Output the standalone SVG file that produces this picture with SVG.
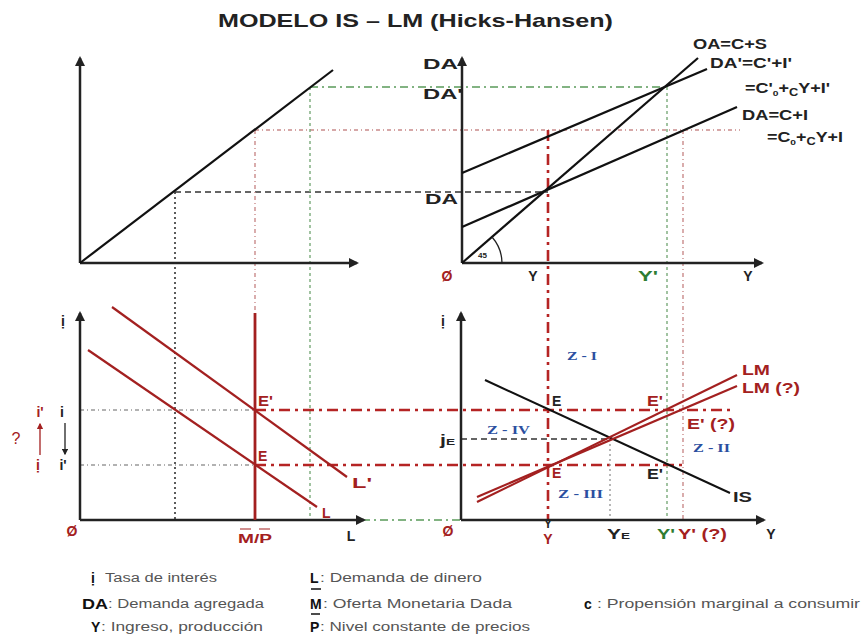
<svg xmlns="http://www.w3.org/2000/svg" width="863" height="638" viewBox="0 0 863 638">
<style>
.ax{stroke:#222;stroke-width:2.5;fill:none;marker-end:url(#ah)}
.bk{stroke:#111;stroke-width:2.2;fill:none}
.rd{stroke:#a32020;stroke-width:2.2;fill:none}
.t{font-family:"Liberation Sans",Arial,sans-serif;font-weight:bold;font-size:14px;fill:#222}
.tr{fill:#a32020}
.tg{fill:#2e7d32}
.tb{font-family:"Liberation Serif","Times New Roman",serif;font-weight:bold;font-size:13px;fill:#2b4fa0}
.lg{font-family:"Liberation Sans",Arial,sans-serif;font-size:12.5px;fill:#555}
.lgb{font-family:"Liberation Sans",Arial,sans-serif;font-weight:bold;font-size:14px;fill:#111}
.bdash{stroke:#333;stroke-width:1.6;stroke-dasharray:6 4;fill:none}
.bdot{stroke:#333;stroke-width:1.6;stroke-dasharray:2 3;fill:none}
.pdot{stroke:#c98a8a;stroke-width:1.4;stroke-dasharray:4 3 1 3;fill:none}
.gdd{stroke:#5a9a5a;stroke-width:1.4;stroke-dasharray:8 4 2 4;fill:none}
.gdot{stroke:#7aaa7a;stroke-width:1.4;stroke-dasharray:3 3;fill:none}
.gydd{stroke:#999;stroke-width:1.4;stroke-dasharray:4 3 1 3;fill:none}
.rdd{stroke:#b52424;stroke-width:2.6;stroke-dasharray:11 5 3 5;fill:none}
.gyd{stroke:#999;stroke-width:1.4;stroke-dasharray:2 3;fill:none}
</style>
<defs>
<marker id="ah" viewBox="0 0 10 10" refX="8" refY="5" markerWidth="4" markerHeight="4" orient="auto"><path d="M0,0 L10,5 L0,10 z" fill="#222"/></marker>
<marker id="ahr" viewBox="0 0 10 10" refX="8" refY="5" markerWidth="5" markerHeight="5" orient="auto"><path d="M0,0 L10,5 L0,10 z" fill="#a32020"/></marker>
<marker id="ahk" viewBox="0 0 10 10" refX="8" refY="5" markerWidth="5" markerHeight="5" orient="auto"><path d="M0,0 L10,5 L0,10 z" fill="#222"/></marker>
</defs>
<rect width="863" height="638" fill="#fff"/>
<text class="t" x="218" y="27" textLength="395" lengthAdjust="spacingAndGlyphs" style="font-size:19px">MODELO IS – LM (Hicks-Hansen)</text>

<g id="connectors">
<path class="bdash" d="M175,192 H548"/>
<path class="bdot" d="M175,192 V520"/>
<path class="pdot" d="M255,130 H740"/>
<path class="pdot" d="M255,130 V313"/>
<path class="gdd" d="M310,87 H667"/>
<path class="gdot" d="M310,87 V520"/>
<path class="gdot" d="M667,87 V520"/>
<path class="pdot" d="M683,130 V520"/>
<path class="gdd" d="M362,520 H461"/>
<path class="gydd" d="M80,410 H255"/>
<path class="gydd" d="M80,465 H255"/>
<path class="rdd" d="M255,410 H730"/>
<path class="rdd" d="M255,465 H683"/>
<path class="rdd" d="M548,130 V520"/>
<path class="bdash" d="M461,439 H610"/>
<path class="gyd" d="M610,439 V520"/>
</g>

<g id="panel-top-left">
<path class="ax" d="M80,263 V58"/>
<path class="ax" d="M80,263 H357"/>
<path class="bk" d="M80,263 L333,70"/>
</g>

<g id="panel-top-right">
<path class="ax" d="M462,263 V58"/>
<path class="ax" d="M462,263 H762"/>
<g id="OA"><path class="bk" d="M462,263 L698,58"/><text class="t" x="693" y="49" textLength="74" lengthAdjust="spacingAndGlyphs">OA=C+S</text></g>
<g id="DA1"><path class="bk" d="M462,173 L707,69"/><text class="t" x="710" y="68" textLength="82" lengthAdjust="spacingAndGlyphs">DA'=C'+I'</text>
<text class="t" x="745" y="93" textLength="85" lengthAdjust="spacingAndGlyphs">=C'<tspan font-size="8" dy="3">0</tspan><tspan dy="-3">+</tspan><tspan font-size="10" dy="3">C</tspan><tspan dy="-3">Y+I'</tspan></text></g>
<g id="DA0"><path class="bk" d="M462,227 L737,107"/><text class="t" x="742" y="120" textLength="66" lengthAdjust="spacingAndGlyphs">DA=C+I</text>
<text class="t" x="767" y="142" textLength="76" lengthAdjust="spacingAndGlyphs">=C<tspan font-size="8" dy="3">0</tspan><tspan dy="-3">+</tspan><tspan font-size="10" dy="3">C</tspan><tspan dy="-3">Y+I</tspan></text></g>
<path d="M502,263 A40,40 0 0,0 492,237" stroke="#222" stroke-width="1.3" fill="none"/>
<text class="t" x="478" y="258" style="font-size:8px">45</text>
<text class="t" x="423" y="69" textLength="35" lengthAdjust="spacingAndGlyphs">DA</text>
<text class="t" x="423" y="99" textLength="40" lengthAdjust="spacingAndGlyphs">DA'</text>
<text class="t" x="425" y="204" textLength="33" lengthAdjust="spacingAndGlyphs">DA</text>
<text class="t tr" x="447" y="281" text-anchor="middle">Ø</text>
<text class="t" x="533" y="281" text-anchor="middle">Y</text>
<text class="t tg" x="638" y="281" textLength="20" lengthAdjust="spacingAndGlyphs">Y'</text>
<text class="t" x="748" y="281" text-anchor="middle">Y</text>
</g>

<g id="panel-bottom-left">
<path class="ax" d="M80,520 V313"/>
<path class="ax" d="M80,520 H364"/>
<g id="L1"><path class="rd" d="M112,307 L347,477"/><text class="t tr" x="352" y="488" textLength="20" lengthAdjust="spacingAndGlyphs">L'</text></g>
<g id="L0"><path class="rd" d="M88,350 L317,507"/><text class="t tr" x="322" y="518">L</text></g>
<g id="MP"><path class="rd" style="stroke-width:2.8" d="M255,313 V520"/>
<text class="t tr" x="238" y="543" textLength="34" lengthAdjust="spacingAndGlyphs" style="font-size:12px">M/P</text>
<path d="M240,529 H251 M259,529 H270" stroke="#a32020" stroke-width="1.2"/></g>
<text class="t tr" x="258" y="406" textLength="15" lengthAdjust="spacingAndGlyphs">E'</text>
<text class="t tr" x="258" y="461">E</text>
<text class="t" x="63" y="326" text-anchor="middle">ị</text>
<text class="t tr" x="72" y="536" text-anchor="middle">Ø</text>
<text class="t" x="351" y="541" text-anchor="middle">L</text>
<text class="t" x="62" y="417" text-anchor="middle">i</text>
<text class="t" x="63" y="470" text-anchor="middle">i'</text>
<path d="M65,423 V454" stroke="#222" stroke-width="1.3" marker-end="url(#ahk)"/>
<text class="t tr" x="40" y="417" text-anchor="middle">i'</text>
<text class="t tr" x="38" y="470" text-anchor="middle">ị</text>
<path d="M40,455 V424" stroke="#a32020" stroke-width="1.3" marker-end="url(#ahr)"/>
<text class="t tr" x="16" y="444" text-anchor="middle" style="font-weight:normal;font-size:16px">?</text>
</g>

<g id="panel-bottom-right">
<path class="ax" d="M461,520 V313"/>
<path class="ax" d="M461,520 H764"/>
<g id="IS"><path class="bk" style="stroke-width:2" d="M485,380 L730,493"/><text class="t" x="733" y="502" textLength="19" lengthAdjust="spacingAndGlyphs">IS</text></g>
<g id="LM"><path class="rd" d="M477,502 L737,375"/><text class="t tr" x="742" y="375" textLength="28" lengthAdjust="spacingAndGlyphs">LM</text></g>
<g id="LMq"><path class="rd" d="M477,497 L737,386"/><text class="t tr" x="742" y="393" textLength="58" lengthAdjust="spacingAndGlyphs">LM (?)</text></g>
<text class="t" x="443" y="326" text-anchor="middle">ị</text>
<text class="tb" x="567" y="360" textLength="30" lengthAdjust="spacingAndGlyphs">Z - I</text>
<text class="tb" x="487" y="434" textLength="43" lengthAdjust="spacingAndGlyphs">Z - IV</text>
<text class="tb" x="693" y="452" textLength="37" lengthAdjust="spacingAndGlyphs">Z - II</text>
<text class="tb" x="558" y="498" textLength="45" lengthAdjust="spacingAndGlyphs">Z - III</text>
<text class="t" x="552" y="406">E</text>
<text class="t tr" x="647" y="406" textLength="16" lengthAdjust="spacingAndGlyphs">E'</text>
<text class="t tr" x="687" y="429" textLength="48" lengthAdjust="spacingAndGlyphs">E' (?)</text>
<text class="t tr" x="552" y="478">E</text>
<text class="t" x="647" y="479" textLength="16" lengthAdjust="spacingAndGlyphs">E'</text>
<text class="t" x="440" y="445" textLength="15" lengthAdjust="spacingAndGlyphs">j<tspan font-size="9">E</tspan></text>
<text class="t tr" x="448" y="536" text-anchor="middle">Ø</text>
<text class="t" x="548" y="528" text-anchor="middle" style="font-size:12px">Y</text>
<text class="t tr" x="548" y="544" text-anchor="middle">Y</text>
<text class="t" x="607" y="539" textLength="23" lengthAdjust="spacingAndGlyphs">Y<tspan font-size="9">E</tspan></text>
<text class="t tg" x="657" y="539" textLength="18" lengthAdjust="spacingAndGlyphs">Y'</text>
<text class="t tr" x="678" y="539" textLength="49" lengthAdjust="spacingAndGlyphs">Y' (?)</text>
<text class="t" x="771" y="539" text-anchor="middle">Y</text>
</g>

<g id="legend">
<text class="lgb" x="93" y="583" text-anchor="middle">ị</text><text class="lg" x="105" y="582" textLength="112" lengthAdjust="spacingAndGlyphs">Tasa de interés</text>
<text class="lgb" x="82" y="609" textLength="26" lengthAdjust="spacingAndGlyphs">DA</text><text class="lg" x="108" y="608" textLength="156" lengthAdjust="spacingAndGlyphs">: Demanda agregada</text>
<text class="lgb" x="91" y="632">Y</text><text class="lg" x="101" y="631" textLength="162" lengthAdjust="spacingAndGlyphs">: Ingreso, producción</text>
<text class="lgb" x="310" y="583">L</text><text class="lg" x="320" y="582" textLength="162" lengthAdjust="spacingAndGlyphs">: Demanda de dinero</text>
<text class="lgb" x="310" y="609">M</text><text class="lg" x="323" y="608" textLength="189" lengthAdjust="spacingAndGlyphs">: Oferta Monetaria Dada</text>
<path d="M311,589 H321 M311,614 H320" stroke="#111" stroke-width="1.5"/>
<text class="lgb" x="310" y="632">P</text><text class="lg" x="320" y="631" textLength="210" lengthAdjust="spacingAndGlyphs">: Nivel constante de precios</text>
<text class="lgb" x="584" y="609">c</text><text class="lg" x="597" y="608" textLength="263" lengthAdjust="spacingAndGlyphs">:  Propensión marginal a consumir</text>
</g>
</svg>
